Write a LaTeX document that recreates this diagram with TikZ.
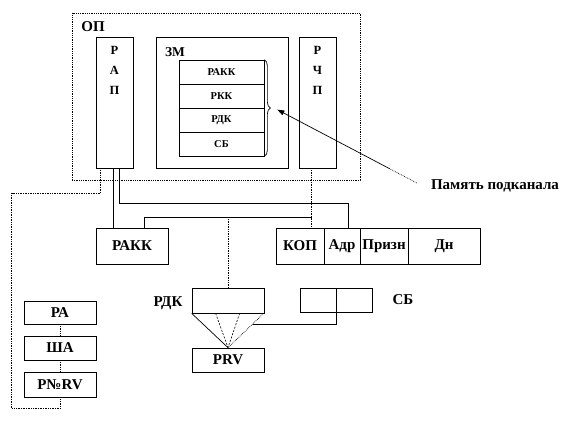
\documentclass[tikz,border=0pt]{standalone}
\usepackage{fontspec}
\setmainfont{Liberation Serif}
\usetikzlibrary{arrows.meta, calc, decorations.pathreplacing}

\begin{document}
\begin{tikzpicture}[x=1pt, y=-1pt,
    box/.style={draw, line width=0.7pt, inner sep=0pt, font=\fontsize{15}{16}\selectfont\bfseries},
    opbox/.style={draw, densely dotted, line width=0.8pt, inner sep=0pt},
    cell/.style={draw, line width=0.7pt, inner sep=0pt, minimum width=85pt, minimum height=24pt, font=\fontsize{10.5}{11}\selectfont\bfseries},
    tall/.style={draw, line width=0.7pt, inner sep=0pt, minimum width=37pt, minimum height=131pt},
    lbl/.style={font=\fontsize{15}{16}\selectfont\bfseries, inner sep=0pt},
    vlbl/.style={font=\fontsize{12.5}{20}\selectfont\bfseries, inner sep=0pt, align=center, anchor=north},
    wire/.style={line width=0.7pt},
    dotwire/.style={line width=0.7pt, densely dotted},
    dashwire/.style={line width=0.6pt, dash pattern=on 2pt off 1.5pt}]
  \useasboundingbox (0,0) rectangle (578,432);

  % ОП with its registers
  \node[opbox, minimum width=288pt, minimum height=167pt] (op) at (216,96.5) {};
  \node[lbl] (oplbl) at (93,27) {ОП};
  \node[tall] (rap) at (114.5,102.5) {};
  \node[vlbl] (raptxt) at ($(rap.north)+(0,9)$) {Р\\А\\П};
  \node[tall] (rchp) at (317.5,102.5) {};
  \node[vlbl] (rchptxt) at ($(rchp.north)+(0,9)$) {Р\\Ч\\П};
  \node[draw, line width=0.7pt, minimum width=132pt, minimum height=131pt] (zm) at (222,102.5) {};
  \node[lbl, font=\fontsize{13.5}{14}\selectfont\bfseries] (zmlbl) at (175,52) {ЗМ};

  % subchannel memory
  \foreach \name/\txt [count=\i] in {rakkz/РАКК, rkkz/РКК, rdkz/РДК, sbz/СБ}
    \node[cell] (\name) at (221.5,48+24*\i) {\txt};
  \draw[wire, decorate, decoration={brace, amplitude=6pt}] (rakkz.north east) -- (sbz.south east);
  \coordinate (bracetip) at ($(rdkz.north east)+(13,2)$);

  \node[lbl] (memlbl) at (495,186) {Память подканала};
  \coordinate (memtail) at ($(memlbl.west)+(-14,-3)$);
  \draw[dotwire] (memtail) -- ($(memtail)!0.2!(bracetip)$) coordinate (memmid);
  \draw[wire, -{Triangle[length=7pt, width=5pt]}] (memmid) -- (bracetip);

  % channel registers
  \node[box, minimum width=72pt, minimum height=36pt] (rakk) at (132,246) {РАКК};
  \node[box, minimum width=48pt, minimum height=36pt] (kop) at (300,246) {КОП};
  \node[box, minimum width=36pt, minimum height=36pt] (adr) at (342,246) {Адр};
  \node[box, minimum width=48pt, minimum height=36pt] (prizn) at (384,246) {Призн};
  \node[box, minimum width=72pt, minimum height=36pt] (dn) at (444,246) {Дн};

  \node[box, minimum width=72pt, minimum height=25pt] (rdk) at (228,300.5) {};
  \node[lbl] (rdklbl) at (168,303) {РДК};
  \node[box, minimum width=36pt, minimum height=24pt] (sba) at (318,300) {};
  \node[box, minimum width=36pt, minimum height=24pt] (sbb) at (354,300) {};
  \node[lbl] (sblbl) at (403,300) {СБ};
  \node[box, minimum width=72pt, minimum height=24pt] (prv) at (228,360) {PRV};

  \node[box, minimum width=72pt, minimum height=23pt] (ra) at (60,312.5) {РА};
  \node[box, minimum width=72pt, minimum height=24pt] (sha) at (60,348) {ША};
  \node[box, minimum width=72pt, minimum height=25pt] (rnrv) at (60,384.5) {Р№RV};

  % connections
  \draw[dotwire] ($(rap.south west)+(5,0)$) |- ++(-89,25) |- ($(rnrv.south)+(0,11)$) -- (rnrv.south);
  \draw[wire] ($(rap.south west)+(18,0)$) coordinate (raptap) -- (raptap |- rakk.north);
  \draw[wire] ($(rap.south west)+(24,0)$) |- ($(adr.north)+(6,-24)$) -- ($(adr.north)+(6,0)$);
  \draw[dotwire] ($(rchp.south west)+(13,0)$) coordinate (chtap) -- (chtap |- kop.north);
  \draw[wire] ($(rakk.north)+(12,0)$) |- ($(chtap)+(0,49)$);
  \draw[dotwire] (rdk.north) -- ++(0,-71);

  \foreach \dx/\sty in {0/wire, 24/dashwire, 48/dashwire, 72/dotwire}
    \draw[\sty] ($(rdk.south west)+(\dx,0)$) -- (prv.north);
  \coordinate (fanjoin) at ($(rdk.south east)!0.31!(prv.north)$);
  \draw[wire] (sba.south east) |- (fanjoin);

  \draw[dotwire] (ra.south) -- (sha.north);
  \draw[dotwire] (sha.south) -- (rnrv.north);
\end{tikzpicture}
\end{document}
